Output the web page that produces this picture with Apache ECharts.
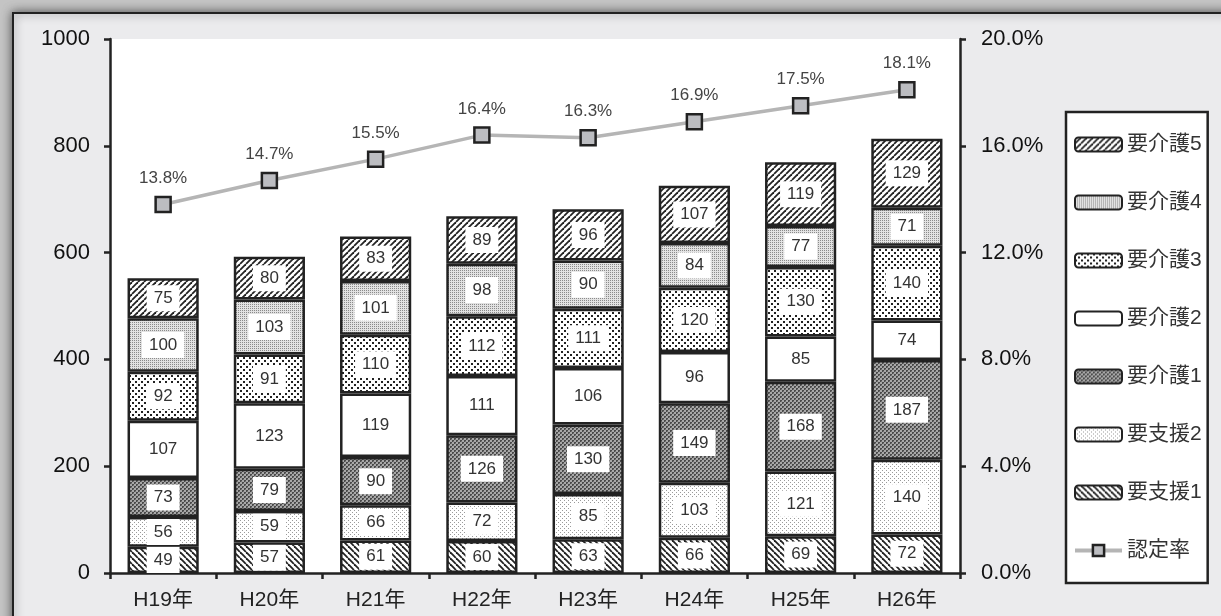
<!DOCTYPE html>
<html><head><meta charset="utf-8">
<script src="https://cdn.jsdelivr.net/npm/echarts@6/dist/echarts.min.js"></script>
<style>html,body{margin:0;padding:0;background:#c4c4c4;}#c{width:1221px;height:616px;}</style>
</head><body><div id="c"></div>
<script>
const categories = ['H19年','H20年','H21年','H22年','H23年','H24年','H25年','H26年'];
const youShien1 = [49,57,61,60,63,66,69,72];
const youShien2 = [56,59,66,72,85,103,121,140];
const youKaigo1 = [73,79,90,126,130,149,168,187];
const youKaigo2 = [107,123,119,111,106,96,85,74];
const youKaigo3 = [92,91,110,112,111,120,130,140];
const youKaigo4 = [100,103,101,98,90,84,77,71];
const youKaigo5 = [75,80,83,89,96,107,119,129];
const ninteiRitsu = [13.8,14.7,15.5,16.4,16.3,16.9,17.5,18.1];
const leftTicks = {min:0,max:1000,interval:200};
const rightTicks = {min:0,max:20,interval:4};

const FONT = '"Liberation Sans", Arial, "Noto Sans CJK JP", sans-serif';

function tile(size, draw){
  const c = document.createElement('canvas');
  c.width = size; c.height = size;
  const g = c.getContext('2d');
  draw(g, size);
  return {image:c, repeat:'repeat'};
}
function diag(forward){
  return tile(6, (g,s)=>{
    g.fillStyle='#fff'; g.fillRect(0,0,s,s);
    g.strokeStyle='#222'; g.lineWidth=1.8;
    for(let k=-1;k<=1;k++){
      g.beginPath();
      if(forward){ g.moveTo(k*s, s); g.lineTo(k*s+s, 0); }
      else { g.moveTo(k*s, 0); g.lineTo(k*s+s, s); }
      g.stroke();
    }
  });
}
const patShien1 = diag(false);
const patKaigo5 = diag(true);
const patShien2 = tile(4,(g,s)=>{
  g.fillStyle='#fff'; g.fillRect(0,0,s,s);
  g.fillStyle='#9a9a9a'; g.fillRect(0,0,1,1); g.fillRect(2,2,1,1);
});
const patKaigo1 = tile(4,(g,s)=>{
  g.fillStyle='#a8a8a8'; g.fillRect(0,0,s,s);
  g.fillStyle='#4a4a4a'; g.fillRect(0,0,2,2); g.fillRect(2,2,2,2);
  g.fillStyle='#777'; g.fillRect(1,1,1,1); g.fillRect(3,3,1,1);
});
const patKaigo3 = tile(6,(g,s)=>{
  g.fillStyle='#fff'; g.fillRect(0,0,s,s);
  g.fillStyle='#222'; g.fillRect(0,0,2,2); g.fillRect(3,3,2,2);
});
const patKaigo4 = tile(2,(g,s)=>{
  g.fillStyle='#e2e2e2'; g.fillRect(0,0,s,s);
  g.fillStyle='#8a8a8a'; g.fillRect(0,0,1,1);
});

function barSeries(name, data, color){
  return {
    name, type:'bar', stack:'total', data, barWidth:'67%',
    itemStyle:{color, borderColor:'#222', borderWidth:2.5},
    label:{show:true, position:'inside', formatter:'{c}', fontFamily:FONT, fontSize:17,
      color:'#333', backgroundColor:'#fff', padding:[5,7,4,7]},
    emphasis:{disabled:true}
  };
}

const chart = echarts.init(document.getElementById('c'), null, {renderer:'canvas'});
chart.setOption({
  backgroundColor:'#c4c4c4',
  animation:false,
  graphic:[{type:'rect', z:-10, shape:{x:13,y:13,width:1300,height:700},
    style:{fill:'#ebebed', stroke:'#222', lineWidth:2, shadowBlur:10, shadowColor:'rgba(0,0,0,0.55)'}}],
  grid:{left:110, right:261, top:39, bottom:43, show:true, backgroundColor:'#fff', borderWidth:0},
  legend:{
    orient:'vertical', left:1066, top:112, width:152, height:468,
    backgroundColor:'#fff', borderColor:'#222', borderWidth:2.5,
    padding:[22,6,22,7], itemGap:37, itemWidth:47, itemHeight:14,
    textStyle:{fontFamily:FONT, fontSize:21, color:'#333'},
    data:['要介護5','要介護4','要介護3','要介護2','要介護1','要支援2','要支援1',
      {name:'認定率', itemStyle:{borderWidth:2.5}, lineStyle:{width:4}}]
  },
  xAxis:{type:'category', data:categories,
    axisLine:{lineStyle:{color:'#222', width:2.5}},
    axisTick:{show:true, length:6, lineStyle:{color:'#222', width:2.5}},
    axisLabel:{fontFamily:FONT, fontSize:21, color:'#222', margin:17}},
  yAxis:[
    {type:'value', min:leftTicks.min, max:leftTicks.max, interval:leftTicks.interval,
      axisLine:{show:true, lineStyle:{color:'#222', width:2.5}},
      axisTick:{show:true, length:6, lineStyle:{color:'#222', width:2.5}},
      splitLine:{show:false},
      axisLabel:{fontFamily:FONT, fontSize:22, color:'#111', margin:20, formatter:v=>String(v)}},
    {type:'value', min:rightTicks.min, max:rightTicks.max, interval:rightTicks.interval, position:'right',
      axisLine:{show:true, lineStyle:{color:'#222', width:2.5}},
      axisTick:{show:true, length:6, lineStyle:{color:'#222', width:2.5}},
      splitLine:{show:false},
      axisLabel:{fontFamily:FONT, fontSize:22, color:'#111', margin:21, formatter:v=>v.toFixed(1)+'%'}}
  ],
  series:[
    barSeries('要支援1', youShien1, patShien1),
    barSeries('要支援2', youShien2, patShien2),
    barSeries('要介護1', youKaigo1, patKaigo1),
    barSeries('要介護2', youKaigo2, '#fff'),
    barSeries('要介護3', youKaigo3, patKaigo3),
    barSeries('要介護4', youKaigo4, patKaigo4),
    barSeries('要介護5', youKaigo5, patKaigo5),
    {name:'認定率', type:'line', yAxisIndex:1, data:ninteiRitsu, z:5,
      symbol:'rect', symbolSize:15,
      lineStyle:{color:'#b5b5b5', width:3.5},
      itemStyle:{color:'#bcbdc1', borderColor:'#222', borderWidth:2.5},
      label:{show:true, position:'top', distance:9, fontFamily:FONT, fontSize:17, color:'#444',
        formatter:p=>p.value.toFixed(1)+'%'},
      emphasis:{disabled:true}}
  ]
});
</script></body></html>
